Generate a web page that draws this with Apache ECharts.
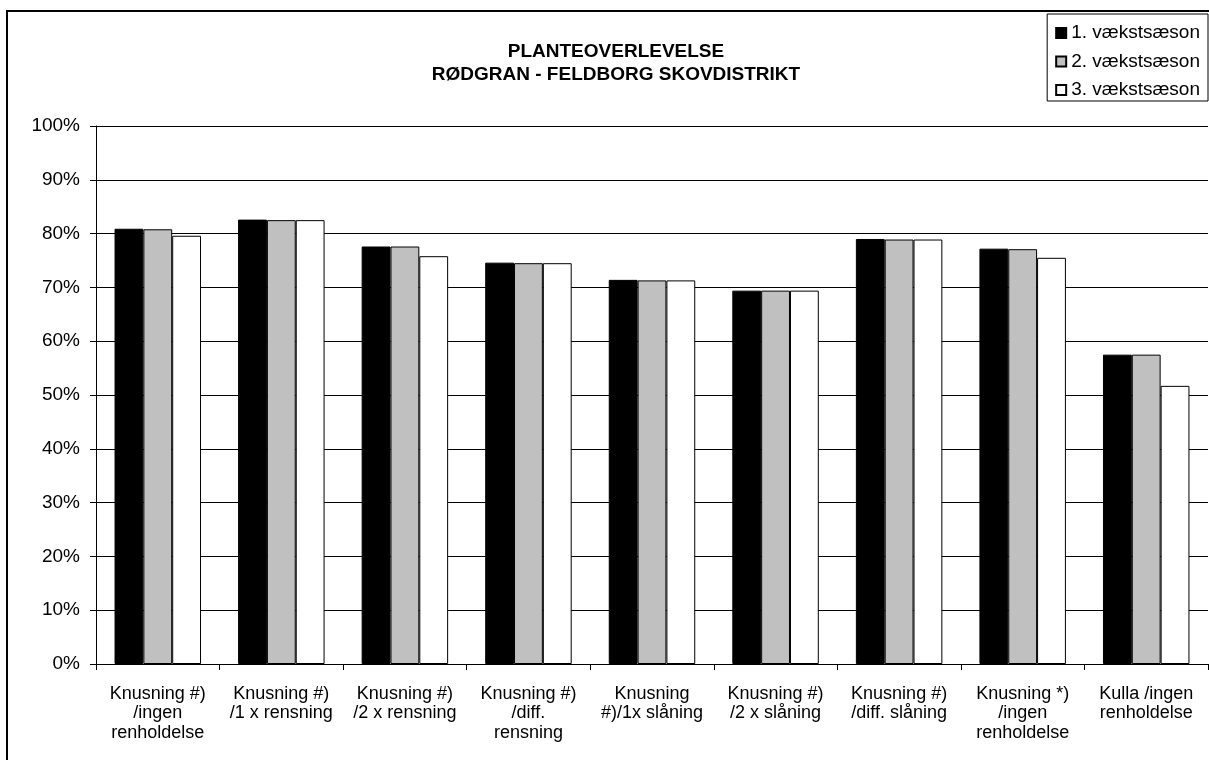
<!DOCTYPE html>
<html lang="da">
  <head>
    <meta charset="UTF-8" />
    <title>Planteoverlevelse</title>
    <style>
      * {
        padding: 0;
        margin: 0;
      }
      body {
        background: #fff;
        overflow: hidden;
      }
      #chart {
        width: 1209px;
        height: 760px;
      }
    </style>
    <script src="https://cdn.jsdelivr.net/npm/echarts@6/dist/echarts.min.js"></script>
  </head>
  <body>
    <div id="chart"></div>
    <script>
      // data
      const categories = [
        "Knusning #)\n/ingen\nrenholdelse",
        "Knusning #)\n/1 x rensning",
        "Knusning #)\n/2 x rensning",
        "Knusning #)\n/diff.\nrensning",
        "Knusning\n#)/1x slåning",
        "Knusning #)\n/2 x slåning",
        "Knusning #)\n/diff. slåning",
        "Knusning *)\n/ingen\nrenholdelse",
        "Kulla /ingen\nrenholdelse",
      ];
      const seriesNames = ["1. vækstsæson", "2. vækstsæson", "3. vækstsæson"];
      const season1 = [80.9, 82.6, 77.6, 74.6, 71.4, 69.4, 79.0, 77.2, 57.5];
      const season2 = [80.8, 82.5, 77.6, 74.5, 71.3, 69.4, 78.9, 77.1, 57.5];
      const season3 = [79.6, 82.5, 75.8, 74.5, 71.3, 69.4, 78.9, 75.5, 51.7];
      const yTicks = [0, 10, 20, 30, 40, 50, 60, 70, 80, 90, 100];

      const font = "Arial, 'Liberation Sans', sans-serif";
      const fills = ["#000000", "#c0c0c0", "#ffffff"];
      const values = [season1, season2, season3];

      const chart = echarts.init(document.getElementById("chart"));

      const series = seriesNames.map((name, i) => ({
        name: name,
        type: "bar",
        data: values[i],
        barGap: "0%",
        barCategoryGap: "30%",
        itemStyle: {
          color: fills[i],
          borderColor: "#000",
          borderWidth: 1,
        },
        emphasis: { disabled: true },
      }));

      chart.setOption({
        animation: false,
        textStyle: { fontFamily: font },
        title: {
          text: "PLANTEOVERLEVELSE\nRØDGRAN - FELDBORG SKOVDISTRIKT",
          left: 611,
          textAlign: "center",
          top: 36,
          textStyle: {
            fontFamily: font,
            fontSize: 19,
            fontWeight: "bold",
            color: "#000",
            lineHeight: 22.5,
          },
        },
        legend: {
          data: seriesNames,
          orient: "vertical",
          right: 1,
          top: 14,
          itemWidth: 10,
          itemHeight: 10,
          itemGap: 8.5,
          padding: [9, 8, 1, 8],
          borderColor: "#000",
          borderWidth: 1,
          backgroundColor: "#fff",
          icon: "rect",
          textStyle: { fontFamily: font, fontSize: 19, lineHeight: 20, color: "#000" },
        },
        grid: {
          left: 96,
          right: 1,
          top: 126,
          bottom: 96,
          containLabel: false,
        },
        xAxis: {
          type: "category",
          data: categories,
          axisLine: { lineStyle: { color: "#000", width: 1 } },
          axisTick: { show: true, length: 6, lineStyle: { color: "#000" } },
          axisLabel: {
            color: "#000",
            fontSize: 18,
            lineHeight: 19.5,
            margin: 20,
            interval: 0,
            hideOverlap: false,
            fontFamily: font,
          },
        },
        yAxis: {
          type: "value",
          min: yTicks[0],
          max: yTicks[yTicks.length - 1],
          interval: yTicks[1] - yTicks[0],
          axisLine: { show: true, lineStyle: { color: "#000", width: 1 } },
          axisTick: { show: true, length: 6, lineStyle: { color: "#000" } },
          axisLabel: {
            color: "#000",
            fontSize: 19,
            margin: 16,
            fontFamily: font,
            formatter: "{value}%",
          },
          splitLine: { show: true, lineStyle: { color: "#000", width: 1 } },
        },
        graphic: [
          {
            type: "rect",
            shape: { x: 7, y: 11, width: 1300, height: 900 },
            style: { fill: null, stroke: "#000", lineWidth: 2 },
            silent: true,
            z: 100,
          },
        ],
        series: series,
      });
    </script>
  </body>
</html>
